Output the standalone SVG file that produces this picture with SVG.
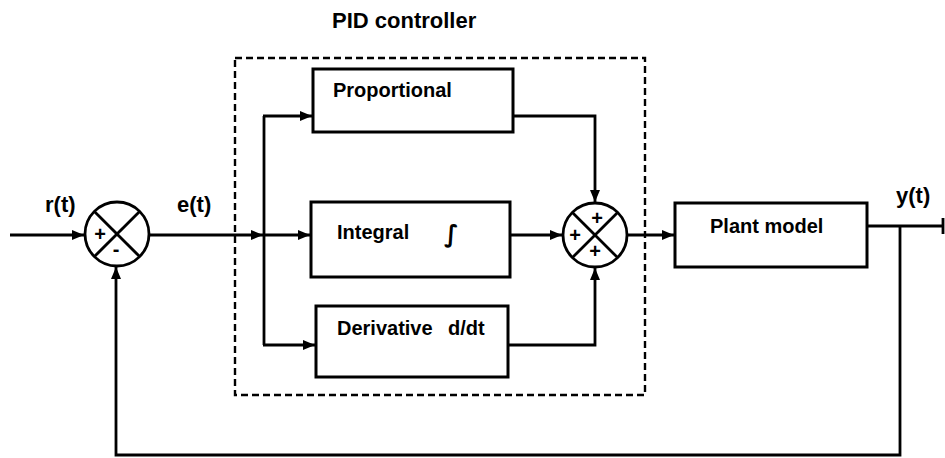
<svg xmlns="http://www.w3.org/2000/svg" width="945" height="458" viewBox="0 0 945 458">
<style>
.ln{fill:none;stroke:#000;stroke-width:2.8}
.box{fill:#fff;stroke:#000;stroke-width:3}
.sum{fill:#fff;stroke:#000;stroke-width:2.8}
.lbl{font-family:"Liberation Sans",Arial,sans-serif;font-weight:bold;font-size:20px;fill:#000}
.sig{font-family:"Liberation Sans",Arial,sans-serif;font-weight:bold;font-size:22px;fill:#000}
.pm{font-family:"Liberation Sans",Arial,sans-serif;font-weight:bold;font-size:20px;fill:#000;text-anchor:middle}
</style>
<defs>
<marker id="ah" viewBox="0 0 12 10" refX="12" refY="5" markerWidth="12" markerHeight="10" markerUnits="userSpaceOnUse" orient="auto">
<path d="M0,0 L12,5 L0,10 Z" fill="#000"/>
</marker>
</defs>
<rect width="945" height="458" fill="#fff"/>
<g id="pid-frame">
<rect x="235" y="58" width="410" height="337" fill="none" stroke="#000" stroke-width="2.4" stroke-dasharray="7,4"/>
<text class="sig" x="332" y="28">PID controller</text>
</g>
<g id="connectors">
<line class="ln" x1="10" y1="235" x2="84" y2="235" marker-end="url(#ah)"/>
<line class="ln" x1="149" y1="235" x2="263" y2="235" marker-end="url(#ah)"/>
<line class="ln" x1="263" y1="235" x2="310" y2="235" marker-end="url(#ah)"/>
<line class="ln" x1="264" y1="116" x2="264" y2="345"/>
<polyline class="ln" points="263,116 312,116" marker-end="url(#ah)"/>
<polyline class="ln" points="263,345 315,345" marker-end="url(#ah)"/>
<polyline class="ln" points="513,116 595,116 595,202" marker-end="url(#ah)"/>
<line class="ln" x1="510" y1="235" x2="562" y2="235" marker-end="url(#ah)"/>
<polyline class="ln" points="508,345 595,345 595,268" marker-end="url(#ah)"/>
<line class="ln" x1="627" y1="235" x2="674" y2="235" marker-end="url(#ah)"/>
<line class="ln" x1="867" y1="226" x2="943" y2="226"/>
<line class="ln" x1="943" y1="218" x2="943" y2="234"/>
<polyline class="ln" points="900,226 900,455 116,455 116,267" marker-end="url(#ah)"/>
</g>
<g id="sum1">
<circle class="sum" cx="117" cy="234" r="32"/>
<line class="ln" x1="94.4" y1="211.4" x2="139.6" y2="256.6"/>
<line class="ln" x1="139.6" y1="211.4" x2="94.4" y2="256.6"/>
<text class="pm" x="100" y="241">+</text>
<text class="pm" x="116" y="256">-</text>
</g>
<g id="sum2">
<circle class="sum" cx="595" cy="235" r="32"/>
<line class="ln" x1="572.4" y1="212.4" x2="617.6" y2="257.6"/>
<line class="ln" x1="617.6" y1="212.4" x2="572.4" y2="257.6"/>
<text class="pm" x="597" y="225">+</text>
<text class="pm" x="575" y="242">+</text>
<text class="pm" x="595" y="258">+</text>
</g>
<g id="proportional">
<rect class="box" x="313" y="69" width="200" height="63"/>
<text class="lbl" x="333" y="97">Proportional</text>
</g>
<g id="integral">
<rect class="box" x="311" y="202" width="199" height="75"/>
<text class="lbl" x="337" y="239">Integral</text>
<text x="444" y="242" font-family="DejaVu Sans, sans-serif" font-size="24" font-weight="bold">∫</text>
</g>
<g id="derivative">
<rect class="box" x="316" y="306" width="192" height="71"/>
<text class="lbl" x="337" y="335">Derivative</text>
<text class="lbl" x="448" y="335">d/dt</text>
</g>
<g id="plant">
<rect class="box" x="675" y="203" width="192" height="64"/>
<text class="lbl" x="710" y="233">Plant model</text>
</g>
<g id="labels">
<text class="sig" x="45" y="212">r(t)</text>
<text class="sig" x="177" y="212">e(t)</text>
<text class="sig" x="896" y="203">y(t)</text>
</g>
</svg>
